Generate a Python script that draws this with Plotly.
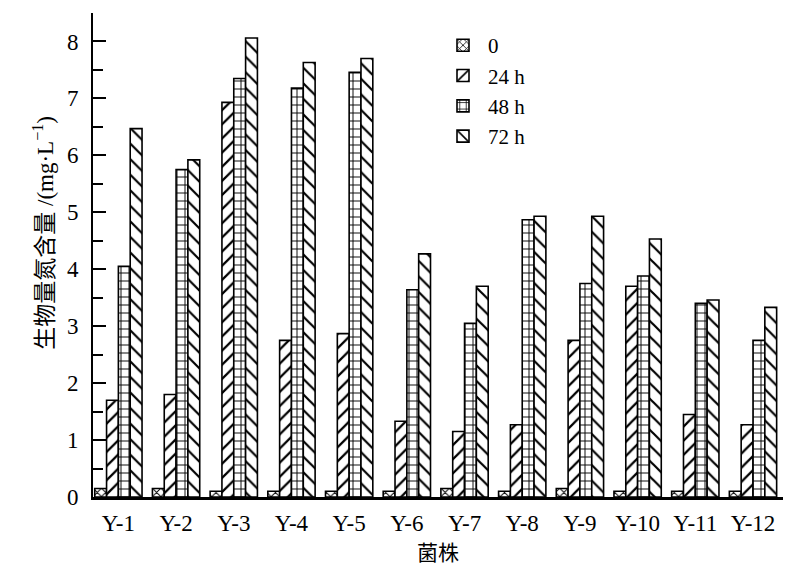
import plotly.graph_objects as go

strains = ["Y-1", "Y-2", "Y-3", "Y-4", "Y-5", "Y-6", "Y-7", "Y-8", "Y-9", "Y-10", "Y-11", "Y-12"]

# biomass nitrogen (mg/L) at each sampling time
n_0h = [0.15, 0.15, 0.10, 0.10, 0.10, 0.10, 0.15, 0.10, 0.15, 0.10, 0.10, 0.10]
n_24h = [1.70, 1.80, 6.93, 2.75, 2.87, 1.33, 1.15, 1.27, 2.75, 3.70, 1.45, 1.27]
n_48h = [4.05, 5.75, 7.35, 7.18, 7.46, 3.64, 3.05, 4.87, 3.75, 3.88, 3.40, 2.75]
n_72h = [6.47, 5.92, 8.06, 7.63, 7.70, 4.27, 3.70, 4.93, 4.93, 4.53, 3.46, 3.33]

series = [
    ("0", n_0h, "x", 6, 0.3),
    ("24 h", n_24h, "/", 10, 0.22),
    ("48 h", n_48h, "+", 8, 0.22),
    ("72 h", n_72h, "\\", 11, 0.2),
]

serif = "Liberation Serif, Noto Sans CJK SC, serif"

fig = go.Figure()
for name, vals, shape, size, solid in series:
    fig.add_trace(go.Bar(
        x=strains, y=vals, name=name,
        marker=dict(
            color="white",
            line=dict(color="black", width=1.6),
            pattern=dict(shape=shape, fgcolor="black", bgcolor="white",
                         size=size, solidity=solid, fgopacity=1),
        ),
    ))

fig.update_layout(
    width=800, height=573,
    margin=dict(l=93, r=17, t=13, b=76),
    plot_bgcolor="white", paper_bgcolor="white",
    barmode="group", bargap=0.18, bargroupgap=0,
    font=dict(family=serif, size=23, color="black"),
    showlegend=True,
    legend=dict(x=0.5, y=0.975, xanchor="left", yanchor="top",
                bgcolor="rgba(0,0,0,0)", font=dict(size=21),
                tracegroupgap=0, itemwidth=40),
)

fig.update_xaxes(
    range=[-0.44, 11.52],
    showline=True, linecolor="black", linewidth=3,
    ticks="", ticklabelstandoff=3,
    tickfont=dict(size=23),
    title=dict(text="菌株", font=dict(size=21), standoff=11),
    showgrid=False, zeroline=False,
)

fig.update_yaxes(
    range=[0, 8.5], dtick=1,
    showline=True, linecolor="black", linewidth=2,
    ticks="inside", ticklen=13, tickwidth=1.5, tickcolor="black",
    minor=dict(ticks="inside", dtick=0.5, ticklen=10, tickwidth=1.5, tickcolor="black"),
    tickfont=dict(size=23), ticklabelstandoff=8,
    showgrid=False, zeroline=False,
)

fig.add_annotation(
    text="生物量氮含量 /(mg·L<sup>−1</sup>)",
    xref="paper", yref="paper", x=-0.071, y=0.546,
    xanchor="center", yanchor="middle", textangle=-90,
    showarrow=False, font=dict(size=23, family=serif),
)

# drop the default 8px body margin so the figure sits at the page corner
fig.write_html("out.html", config={"displayModeBar": False},
               post_script="document.body.style.margin='0';")
